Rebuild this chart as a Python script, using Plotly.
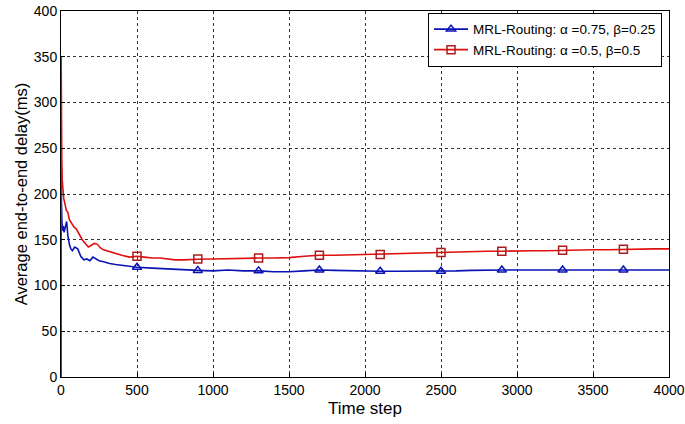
import plotly.graph_objects as go

# Running average of end-to-end delay for the two weightings
time_red = [0, 1, 3, 5, 8, 12, 18, 25, 35, 45, 55, 70, 85, 100, 120, 140, 160, 180, 200,
            220, 240, 260, 280, 300, 330, 360, 400, 450, 500, 550, 600, 650, 700, 750, 800,
            850, 900, 950, 1000, 1100, 1200, 1300, 1400, 1500, 1600, 1700, 1800, 1900, 2000,
            2100, 2200, 2300, 2400, 2500, 2600, 2700, 2800, 2900, 3000, 3100, 3200, 3300,
            3400, 3500, 3600, 3700, 3800, 3900, 4000]
delay_red = [0, 350, 270, 240, 215, 205, 195, 190, 182, 180, 172, 168, 164, 162, 156, 150, 146,
             142, 144, 146, 145, 141, 139, 138, 136, 135, 133, 131, 132, 131, 130, 130, 129,
             128, 128, 128.5, 129, 129, 129, 129.5, 130, 130, 130, 130.5, 132, 133, 133, 133.5,
             134, 134, 135, 135, 135.5, 136, 136.5, 137, 137.5, 137.5, 138, 138, 138, 138.5,
             138.5, 139, 139, 139.5, 140, 140, 140]

time_blue = [0, 1, 3, 6, 10, 15, 20, 30, 37, 45, 55, 65, 75, 90, 100, 110, 130, 150, 170, 190,
             210, 230, 250, 280, 320, 360, 400, 450, 500, 600, 700, 800, 900, 1000, 1100, 1200,
             1300, 1400, 1500, 1600, 1700, 1800, 1900, 2000, 2100, 2200, 2300, 2400, 2500, 2600,
             2700, 2800, 2900, 3000, 3100, 3200, 3300, 3400, 3500, 3600, 3700, 3800, 3900, 4000]
delay_blue = [0, 225, 190, 170, 160, 165, 158, 165, 170, 155, 145, 140, 138, 142, 141, 140, 132,
              128, 129, 127, 131, 129, 127, 126, 124, 123, 122, 121, 120, 119, 118, 117, 116.5,
              116, 117, 116, 116, 115, 115, 116, 117, 116.5, 116, 116, 115.5, 115.5, 115.5, 115.5,
              115.5, 116, 116.5, 117, 117, 117, 117, 117, 117, 117, 117, 117, 117, 117, 117, 117]

marker_times = [500, 900, 1300, 1700, 2100, 2500, 2900, 3300, 3700]

labels = ["MRL-Routing: α =0.75, β=0.25", "MRL-Routing: α =0.5, β=0.5"]
x_ticks = [0, 500, 1000, 1500, 2000, 2500, 3000, 3500, 4000]
y_ticks = [0, 50, 100, 150, 200, 250, 300, 350, 400]

BLUE = "#0a14b4"
RED = "#e01010"
RED_EDGE = "#a81c1c"

series = [
    (time_blue, delay_blue, labels[0], BLUE, BLUE, "triangle-up-open"),
    (time_red, delay_red, labels[1], RED, RED_EDGE, "square-open"),
]

fig = go.Figure()
for xs, ys, name, lc, mc, sym in series:
    lookup = dict(zip(xs, ys))
    fig.add_trace(go.Scatter(x=xs, y=ys, mode="lines", line=dict(color=lc, width=1.6),
                             showlegend=False, hoverinfo="skip"))
    fig.add_trace(go.Scatter(x=marker_times, y=[lookup[t] for t in marker_times],
                             mode="markers", showlegend=False,
                             marker=dict(symbol=sym, size=8, color=mc, line=dict(width=1.5, color=mc))))
    fig.add_trace(go.Scatter(x=[None], y=[None], mode="lines+markers", name=name,
                             line=dict(color=lc, width=1.6),
                             marker=dict(symbol=sym, size=8, color=mc, line=dict(width=1.5, color=mc))))

axis_common = dict(showline=True, linecolor="black", linewidth=1, mirror=True,
                   showgrid=True, gridcolor="#333333", griddash="dot", gridwidth=1,
                   zeroline=False, ticks="inside", ticklen=4, tickcolor="black",
                   automargin=False, ticklabeloverflow="allow",
                   tickfont=dict(size=14, color="black"))

fig.update_xaxes(range=[0, 4000], tickvals=x_ticks,
                 title=dict(text="Time step", font=dict(size=17, color="black"), standoff=5),
                 **axis_common)
fig.update_yaxes(range=[0, 400], tickvals=y_ticks,
                 title=dict(text="Average end-to-end delay(ms)", font=dict(size=16.5, color="black"), standoff=2),
                 **axis_common)

fig.update_layout(
    width=685, height=424,
    margin=dict(l=61, r=16, t=11, b=47, autoexpand=False),
    paper_bgcolor="white", plot_bgcolor="white",
    font=dict(family="Liberation Sans, Arial, sans-serif", color="black"),
    legend=dict(x=0.9885, y=0.995, xanchor="right", yanchor="top",
                bgcolor="white", bordercolor="black", borderwidth=1,
                font=dict(size=13.5), tracegroupgap=0, itemwidth=34),
)

fig.write_html("out.html")
